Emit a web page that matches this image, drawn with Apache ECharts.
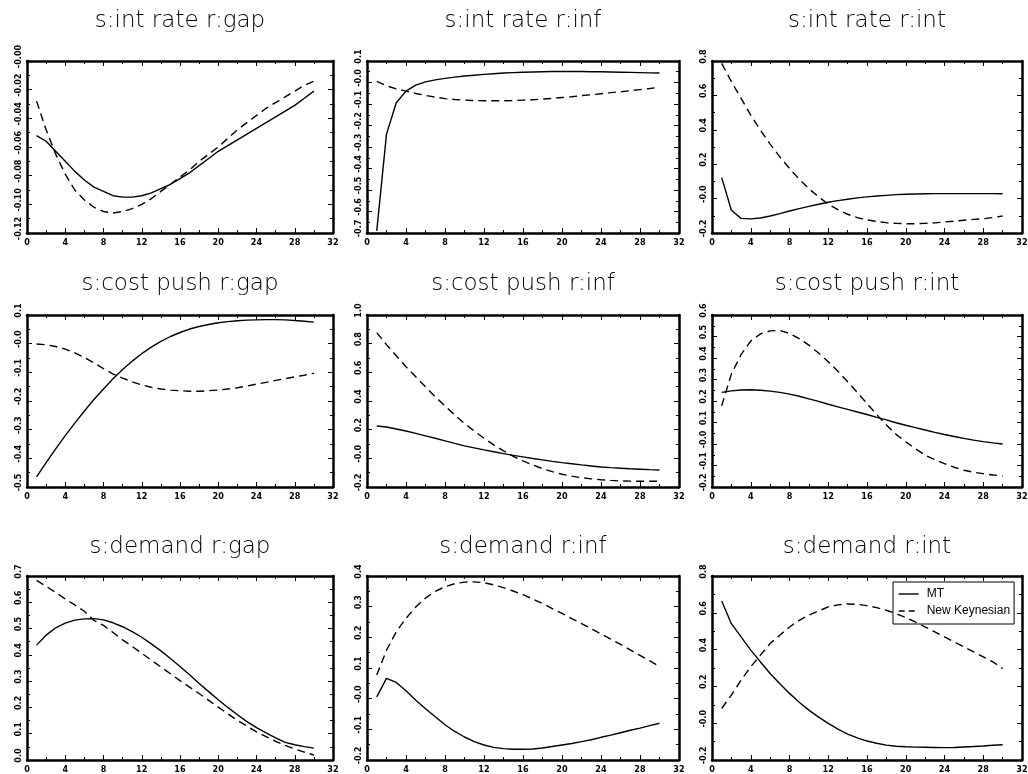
<!DOCTYPE html>
<html>
<head>
<meta charset="utf-8">
<script src="https://cdn.jsdelivr.net/npm/echarts@6/dist/echarts.min.js"></script>
<style>
  html, body { margin: 0; padding: 0; background: #fff; }
  #chart { width: 1028px; height: 774px; }
</style>
</head>
<body>
<div id="chart"></div>
<script>
// impulse responses, periods 1..30
const periods = [1, 2, 3, 4, 5, 6, 7, 8, 9, 10, 11, 12, 13, 14, 15, 16, 17, 18, 19, 20, 21, 22, 23, 24, 25, 26, 27, 28, 29, 30]
const titles = [
  's:int rate r:gap', 's:int rate r:inf', 's:int rate r:int',
  's:cost push r:gap', 's:cost push r:inf', 's:cost push r:int',
  's:demand r:gap', 's:demand r:inf', 's:demand r:int'
]
const seriesNames = ['MT', 'New Keynesian']

// MT model (solid)
const mtIntGap = [-0.052, -0.056, -0.063, -0.070, -0.077, -0.083, -0.088, -0.091, -0.094, -0.095, -0.095, -0.094, -0.092, -0.089, -0.086, -0.082, -0.078, -0.073, -0.068, -0.063, -0.059, -0.055, -0.051, -0.047, -0.043, -0.039, -0.035, -0.031, -0.026, -0.021]
const mtIntInf = [-0.69, -0.24, -0.094, -0.040, -0.012, 0.003, 0.012, 0.019, 0.025, 0.030, 0.034, 0.038, 0.041, 0.044, 0.046, 0.048, 0.049, 0.050, 0.051, 0.051, 0.051, 0.051, 0.050, 0.050, 0.049, 0.048, 0.047, 0.046, 0.045, 0.044]
const mtIntInt = [0.122, -0.068, -0.115, -0.118, -0.113, -0.101, -0.087, -0.072, -0.058, -0.045, -0.033, -0.021, -0.012, -0.004, 0.004, 0.010, 0.015, 0.019, 0.023, 0.025, 0.027, 0.028, 0.029, 0.029, 0.029, 0.029, 0.029, 0.029, 0.029, 0.028]
const mtCostGap = [-0.465, -0.415, -0.367, -0.321, -0.277, -0.235, -0.195, -0.158, -0.122, -0.090, -0.061, -0.035, -0.012, 0.008, 0.025, 0.039, 0.051, 0.060, 0.067, 0.073, 0.077, 0.080, 0.082, 0.083, 0.084, 0.084, 0.083, 0.081, 0.078, 0.075]
const mtCostInf = [0.226, 0.219, 0.205, 0.191, 0.174, 0.157, 0.140, 0.122, 0.104, 0.087, 0.073, 0.059, 0.046, 0.033, 0.021, 0.010, -0.001, -0.011, -0.021, -0.030, -0.038, -0.046, -0.053, -0.060, -0.065, -0.069, -0.073, -0.076, -0.079, -0.081]
const mtCostInt = [0.240, 0.247, 0.251, 0.252, 0.250, 0.246, 0.240, 0.232, 0.222, 0.210, 0.198, 0.185, 0.173, 0.161, 0.149, 0.137, 0.124, 0.112, 0.099, 0.087, 0.076, 0.065, 0.054, 0.044, 0.035, 0.026, 0.018, 0.011, 0.005, 0.000]
const mtDemGap = [0.437, 0.475, 0.503, 0.521, 0.532, 0.537, 0.538, 0.533, 0.522, 0.507, 0.488, 0.467, 0.442, 0.415, 0.386, 0.356, 0.324, 0.291, 0.260, 0.229, 0.200, 0.172, 0.146, 0.123, 0.103, 0.084, 0.067, 0.058, 0.051, 0.045]
const mtDemInf = [0.006, 0.066, 0.053, 0.026, -0.005, -0.033, -0.059, -0.085, -0.107, -0.125, -0.140, -0.151, -0.159, -0.163, -0.165, -0.165, -0.164, -0.161, -0.156, -0.151, -0.146, -0.140, -0.134, -0.126, -0.119, -0.111, -0.103, -0.096, -0.088, -0.080]
const mtDemInt = [0.664, 0.541, 0.469, 0.397, 0.333, 0.270, 0.214, 0.162, 0.114, 0.071, 0.033, -0.001, -0.032, -0.059, -0.080, -0.097, -0.109, -0.119, -0.125, -0.128, -0.130, -0.131, -0.132, -0.133, -0.132, -0.129, -0.127, -0.124, -0.120, -0.117]

// New Keynesian model (dashed)
const nkIntGap = [-0.028, -0.048, -0.065, -0.079, -0.090, -0.097, -0.102, -0.105, -0.106, -0.105, -0.103, -0.100, -0.096, -0.091, -0.086, -0.081, -0.076, -0.070, -0.065, -0.060, -0.054, -0.048, -0.043, -0.038, -0.033, -0.029, -0.025, -0.021, -0.017, -0.014]
const nkIntInf = [0.005, -0.015, -0.030, -0.040, -0.051, -0.060, -0.068, -0.075, -0.079, -0.082, -0.084, -0.085, -0.085, -0.085, -0.084, -0.082, -0.080, -0.077, -0.074, -0.070, -0.066, -0.061, -0.057, -0.052, -0.047, -0.043, -0.038, -0.033, -0.028, -0.022]
const nkIntInt = [0.786, 0.680, 0.583, 0.485, 0.398, 0.317, 0.243, 0.175, 0.113, 0.058, 0.010, -0.033, -0.064, -0.091, -0.111, -0.124, -0.133, -0.140, -0.144, -0.146, -0.146, -0.144, -0.141, -0.136, -0.131, -0.126, -0.121, -0.117, -0.110, -0.101]
const nkCostGap = [-0.001, -0.004, -0.010, -0.019, -0.032, -0.048, -0.067, -0.087, -0.106, -0.120, -0.133, -0.144, -0.152, -0.158, -0.162, -0.164, -0.166, -0.166, -0.164, -0.162, -0.158, -0.154, -0.148, -0.141, -0.135, -0.128, -0.122, -0.116, -0.110, -0.103]
const nkCostInf = [0.877, 0.793, 0.716, 0.639, 0.569, 0.499, 0.429, 0.366, 0.303, 0.243, 0.191, 0.140, 0.094, 0.052, 0.014, -0.018, -0.046, -0.072, -0.093, -0.111, -0.124, -0.135, -0.143, -0.149, -0.154, -0.158, -0.159, -0.160, -0.160, -0.160]
const nkCostInt = [0.178, 0.325, 0.416, 0.479, 0.512, 0.526, 0.528, 0.514, 0.490, 0.460, 0.423, 0.383, 0.338, 0.290, 0.240, 0.188, 0.137, 0.088, 0.045, 0.010, -0.022, -0.052, -0.073, -0.091, -0.108, -0.122, -0.131, -0.138, -0.144, -0.149]
const nkDemGap = [0.683, 0.661, 0.637, 0.613, 0.590, 0.566, 0.531, 0.512, 0.485, 0.457, 0.432, 0.406, 0.380, 0.354, 0.328, 0.302, 0.277, 0.253, 0.227, 0.201, 0.176, 0.151, 0.129, 0.107, 0.089, 0.071, 0.056, 0.042, 0.030, 0.019]
const nkDemInf = [0.077, 0.158, 0.218, 0.262, 0.299, 0.328, 0.350, 0.365, 0.375, 0.380, 0.381, 0.378, 0.371, 0.362, 0.351, 0.339, 0.325, 0.310, 0.294, 0.278, 0.261, 0.245, 0.228, 0.211, 0.194, 0.177, 0.159, 0.141, 0.123, 0.105]
const nkDemInt = [0.080, 0.153, 0.234, 0.306, 0.370, 0.433, 0.478, 0.523, 0.559, 0.587, 0.610, 0.632, 0.643, 0.648, 0.646, 0.639, 0.628, 0.614, 0.596, 0.574, 0.550, 0.523, 0.496, 0.469, 0.442, 0.415, 0.388, 0.361, 0.333, 0.297]

const mtData = [mtIntGap, mtIntInf, mtIntInt, mtCostGap, mtCostInf, mtCostInt, mtDemGap, mtDemInf, mtDemInt]
const nkData = [nkIntGap, nkIntInf, nkIntInt, nkCostGap, nkCostInf, nkCostInt, nkDemGap, nkDemInf, nkDemInt]

// y axis ranges and tick labels
const yMins = [-0.12, -0.7, -0.2, -0.5, -0.2, -0.2, 0.0, -0.2, -0.2]
const yMaxs = [0.0, 0.1, 0.8, 0.1, 1.0, 0.6, 0.7, 0.4, 0.8]
const ySteps = [0.02, 0.1, 0.2, 0.1, 0.2, 0.1, 0.1, 0.1, 0.2]
const yTickLabels = [
  ['-0.12', '-0.10', '-0.08', '-0.06', '-0.04', '-0.02', '-0.00'],
  ['-0.7', '-0.6', '-0.5', '-0.4', '-0.3', '-0.2', '-0.1', '-0.0', '0.1'],
  ['-0.2', '-0.0', '0.2', '0.4', '0.6', '0.8'],
  ['-0.5', '-0.4', '-0.3', '-0.2', '-0.1', '-0.0', '0.1'],
  ['-0.2', '-0.0', '0.2', '0.4', '0.6', '0.8', '1.0'],
  ['-0.2', '-0.1', '-0.0', '0.1', '0.2', '0.3', '0.4', '0.5', '0.6'],
  ['0.0', '0.1', '0.2', '0.3', '0.4', '0.5', '0.6', '0.7'],
  ['-0.2', '-0.1', '-0.0', '0.1', '0.2', '0.3', '0.4'],
  ['-0.2', '-0.0', '0.2', '0.4', '0.6', '0.8']
]
const xTickLabels = ['0', '4', '8', '12', '16', '20', '24', '28', '32']

const colLeft = [27, 367, 712]
const colWidth = [306, 312, 310]
const rowTop = [61, 315, 576]
const rowHeight = [172, 172, 184]
const titleMidY = [20, 283, 546]

const tickFont = {
  fontFamily: 'DejaVu Sans Condensed',
  fontWeight: 'bold',
  fontSize: 9,
  color: '#000'
}

const chart = echarts.init(document.getElementById('chart'), null, { renderer: 'canvas' })

const grid = []
const title = []
const xAxis = []
const yAxis = []
const series = []

for (let i = 0; i < 9; i++) {
  const r = Math.floor(i / 3)
  const c = i % 3
  grid.push({
    left: colLeft[c],
    top: rowTop[r],
    width: colWidth[c],
    height: rowHeight[r],
    outerBoundsMode: 'none',
    containLabel: false
  })
  title.push({
    text: titles[i],
    left: colLeft[c] + colWidth[c] / 2,
    top: titleMidY[r] - 10,
    textAlign: 'center',
    padding: 0,
    textStyle: {
      fontFamily: 'DejaVu Sans',
      fontWeight: 200,
      fontSize: 23,
      color: '#000'
    }
  })
  const lineStyle = { color: '#000', width: 2.5 }
  const xBase = {
    type: 'value',
    gridIndex: i,
    min: 0,
    max: 32,
    interval: 4,
    splitLine: { show: false },
    axisLine: { show: true, onZero: false, lineStyle: lineStyle },
    axisTick: { show: true, inside: true, length: 5, lineStyle: { color: '#000', width: 1 } },
    minorTick: { show: true, splitNumber: 2, length: 3, lineStyle: { color: '#000', width: 1 } }
  }
  xAxis.push(Object.assign({}, xBase, {
    position: 'bottom',
    axisLabel: Object.assign({
      margin: 5,
      showMinLabel: true,
      showMaxLabel: true,
      hideOverlap: false,
      formatter: (v) => xTickLabels[Math.round(v / 4)]
    }, tickFont)
  }))
  xAxis.push(Object.assign({}, xBase, {
    position: 'top',
    axisLabel: { show: false }
  }))
  const yLabels = yTickLabels[i]
  const yMin = yMins[i]
  const yStep = ySteps[i]
  const yBase = {
    type: 'value',
    gridIndex: i,
    min: yMin,
    max: yMaxs[i],
    interval: yStep,
    splitLine: { show: false },
    axisLine: { show: true, onZero: false, lineStyle: lineStyle },
    axisTick: { show: true, inside: true, length: 5, lineStyle: { color: '#000', width: 1 } },
    minorTick: { show: true, splitNumber: 2, length: 3, lineStyle: { color: '#000', width: 1 } }
  }
  yAxis.push(Object.assign({}, yBase, {
    position: 'left',
    axisLabel: Object.assign({
      rotate: 90,
      margin: 4,
      align: 'center',
      verticalAlign: 'bottom',
      padding: [0, 0, 0, 9],
      showMinLabel: true,
      showMaxLabel: true,
      hideOverlap: false,
      formatter: (v) => yLabels[Math.round((v - yMin) / yStep)]
    }, tickFont)
  }))
  yAxis.push(Object.assign({}, yBase, {
    position: 'right',
    axisLabel: { show: false }
  }))

  series.push({
    name: seriesNames[0],
    type: 'line',
    xAxisIndex: 2 * i,
    yAxisIndex: 2 * i,
    symbol: 'none',
    silent: true,
    lineStyle: { color: '#000', width: 1.4, type: 'solid' },
    itemStyle: { color: '#000' },
    data: periods.map((p, k) => [p, mtData[i][k]])
  })
  series.push({
    name: seriesNames[1],
    type: 'line',
    xAxisIndex: 2 * i,
    yAxisIndex: 2 * i,
    symbol: 'none',
    silent: true,
    lineStyle: { color: '#000', width: 1.4, type: [8, 5] },
    itemStyle: { color: '#000' },
    data: periods.map((p, k) => [p, nkData[i][k]])
  })
}

chart.setOption({
  animation: false,
  backgroundColor: '#fff',
  title: title,
  grid: grid,
  xAxis: xAxis,
  yAxis: yAxis,
  legend: {
    data: [
      { name: seriesNames[0], lineStyle: { type: 'solid', width: 1.4, color: '#000' } },
      { name: seriesNames[1], lineStyle: { type: [6, 4], width: 1.4, color: '#000' } }
    ],
    orient: 'vertical',
    left: 893,
    top: 582,
    padding: [6, 4, 7, 5],
    itemGap: 5,
    itemWidth: 20,
    itemHeight: 10,
    itemStyle: { opacity: 0 },
    borderColor: '#000',
    borderWidth: 1,
    selectedMode: false,
    textStyle: { fontFamily: 'Liberation Sans', fontSize: 12, color: '#000', padding: [0, 0, 0, 3] }
  },
  series: series
})
</script>
</body>
</html>
